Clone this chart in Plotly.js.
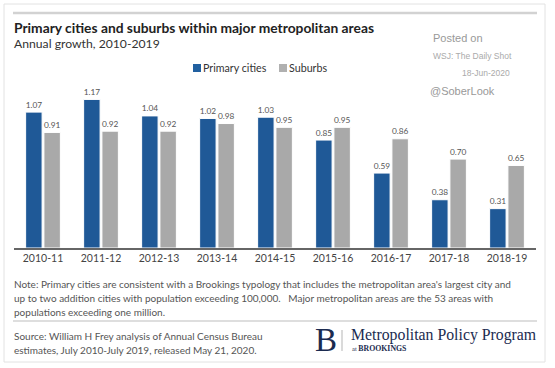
<!DOCTYPE html>
<html>
<head>
<meta charset="utf-8">
<script src="https://cdn.plot.ly/plotly-3.0.1.min.js"></script>
<style>html,body{margin:0;padding:0;background:#fff;}#chart{width:555px;height:368px;}</style>
</head>
<body>
<div id="chart"></div>
<script>
const categories = ['2010-11','2011-12','2012-13','2013-14','2014-15','2015-16','2016-17','2017-18','2018-19'];
const primaryCities = [1.07, 1.17, 1.04, 1.02, 1.03, 0.85, 0.59, 0.38, 0.31];
const suburbs = [0.91, 0.92, 0.92, 0.98, 0.95, 0.95, 0.86, 0.70, 0.65];
const seriesNames = ['Primary cities', 'Suburbs'];
const seriesColors = ['#1f5997', '#a9a9a9'];

const W = 555, H = 368;
const px = x => x / W;
const py = y => 1 - y / H;
const FONT = 'Lato, "Open Sans", sans-serif';
const SERIF = '"Liberation Serif", "DejaVu Serif", serif';
const ARIAL = 'Arial, "Liberation Sans", sans-serif';

const traces = [primaryCities, suburbs].map((vals, i) => ({
  type: 'bar', name: seriesNames[i], x: categories, y: vals,
  marker: {color: seriesColors[i], line: {color: '#ffffff', width: 1}},
  texttemplate: '%{y:.2f}', textposition: 'outside', cliponaxis: false,
  textfont: {family: FONT, size: 10.8, color: '#555'}, hoverinfo: 'none',
  showlegend: false
}));

function ann(text, x, y, size, color, opts, family) {
  return Object.assign({
    text: text, x: px(x), y: py(y), xref: 'paper', yref: 'paper',
    xanchor: 'left', yanchor: 'middle', showarrow: false,
    font: {family: family || FONT, size: size, color: color}
  }, opts || {});
}

const annotations = [
  ann('<b>Primary cities and suburbs within major metropolitan areas</b>', 12, 27, 13.8, '#222'),
  ann('Annual growth, 2010-2019', 12, 43, 12.2, '#333'),
  ann('Posted on', 431, 38, 11, '#999', null, ARIAL),
  ann('WSJ: The Daily Shot', 431, 56, 8.5, '#aaa', null, ARIAL),
  ann('18-Jun-2020', 512, 73, 8.5, '#aaa', {xanchor: 'right'}, ARIAL),
  ann('@SoberLook', 428, 91, 11, '#999', null, ARIAL),
  ann(seriesNames[0], 201, 68, 10.7, '#333'),
  ann(seriesNames[1], 287, 68, 10.7, '#333'),
  ann("Note: Primary cities are consistent with a Brookings typology that includes the metropolitan area's largest city and", 12, 284, 10, '#555'),
  ann('up to two addition cities with population exceeding 100,000.   Major metropolitan areas are the 53 areas with', 12, 298, 10, '#555'),
  ann('populations exceeding one million.', 12, 312, 10, '#555'),
  ann('Source: William H Frey analysis of Annual Census Bureau', 12, 336, 10, '#555'),
  ann('estimates, July 2010-July 2019, released May 21, 2020.', 12, 350, 10, '#555'),
  ann('B', 313, 340, 33, '#1b2b50', null, SERIF),
  ann('Metropolitan Policy Program', 349, 335, 15.8, '#1b2b50', null, SERIF),
  ann('<span style="font-size:6.5px">at </span><b>BROOKINGS</b>', 350, 348.5, 7.8, '#1b2b50', null, SERIF)
];

const shapes = [
  {type: 'rect', xref: 'paper', yref: 'paper', x0: px(4), x1: px(545), y0: py(362), y1: py(4), line: {color: '#e2e2e2', width: 1}},
  {type: 'line', xref: 'paper', yref: 'paper', x0: px(13), x1: px(537), y0: py(13), y1: py(13), line: {color: '#d2d2d2', width: 2.5}},
  {type: 'line', xref: 'paper', yref: 'paper', x0: px(13), x1: px(537), y0: py(321), y1: py(321), line: {color: '#bdbdbd', width: 1}},
  {type: 'line', xref: 'paper', yref: 'paper', x0: px(342), x1: px(342), y0: py(330), y1: py(351), line: {color: '#b5b5b5', width: 1}},
  {type: 'rect', xref: 'paper', yref: 'paper', x0: px(193), x1: px(201), y0: py(72), y1: py(64), line: {width: 0}, fillcolor: '#2160a0'},
  {type: 'rect', xref: 'paper', yref: 'paper', x0: px(279), x1: px(287), y0: py(72), y1: py(64), line: {width: 0}, fillcolor: '#b0b0b0'}
];

const layout = {
  width: W, height: H,
  margin: {l: 0, r: 0, t: 0, b: 0},
  paper_bgcolor: '#ffffff', plot_bgcolor: '#ffffff',
  font: {family: FONT, color: '#333'},
  barmode: 'group', bargap: 0.37, bargroupgap: 0.1,
  showlegend: false,
  xaxis: {
    domain: [px(14), px(536)], type: 'category',
    showline: true, linecolor: '#666', linewidth: 1.5,
    ticks: '', showgrid: false, zeroline: false,
    tickfont: {family: FONT, size: 10.5, color: '#444'}, fixedrange: true
  },
  yaxis: {
    domain: [py(248), py(60)], range: [0, (248 - 60) / 127],
    showticklabels: false, showgrid: false, zeroline: false, showline: false, ticks: '', fixedrange: true
  },
  annotations: annotations,
  shapes: shapes
};

Plotly.newPlot('chart', traces, layout, {displayModeBar: false, staticPlot: true});
</script>
</body>
</html>
